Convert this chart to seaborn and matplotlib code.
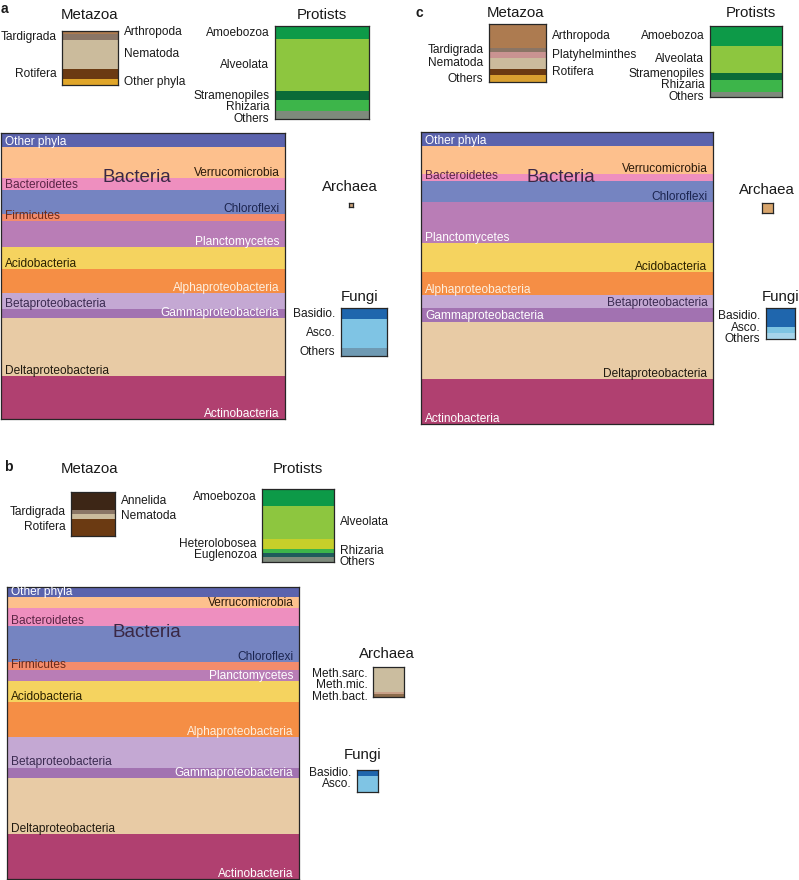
import numpy as np
import matplotlib.pyplot as plt
import seaborn as sns

# ---------------- data (relative share of each band, top to bottom) ----------------
bact_names_ab = ["Other phyla", "Verrucomicrobia", "Bacteroidetes", "Chloroflexi", "Firmicutes",
                 "Planctomycetes", "Acidobacteria", "Alphaproteobacteria", "Betaproteobacteria",
                 "Gammaproteobacteria", "Deltaproteobacteria", "Actinobacteria"]
bact_a = [4.9, 10.8, 4.2, 8.4, 2.4, 9.1, 7.7, 8.4, 5.6, 3.1, 20.3, 15.0]
bact_b = [3.5, 3.7, 6.1, 12.5, 2.6, 3.8, 7.3, 11.8, 10.6, 3.7, 19.2, 15.3]
bact_names_c = ["Other phyla", "Verrucomicrobia", "Bacteroidetes", "Chloroflexi", "Planctomycetes",
                "Acidobacteria", "Alphaproteobacteria", "Betaproteobacteria", "Gammaproteobacteria",
                "Deltaproteobacteria", "Actinobacteria"]
bact_c = [4.9, 9.4, 2.6, 7.1, 14.0, 9.9, 7.8, 4.6, 4.6, 19.7, 15.4]

meta_names_a = ["Arthropoda", "Tardigrada", "Nematoda", "Rotifera", "Other phyla"]
meta_a = [5.5, 11, 54, 18.5, 11]
meta_names_b = ["Annelida", "Tardigrada", "Nematoda", "Rotifera"]
meta_b = [42, 7, 12, 39]
meta_names_c = ["Arthropoda", "Tardigrada", "Platyhelminthes", "Nematoda", "Rotifera", "Others"]
meta_c = [41, 7, 10, 19, 11, 12]

prot_names_a = ["Amoebozoa", "Alveolata", "Stramenopiles", "Rhizaria", "Others"]
prot_a = [14, 56, 10, 11, 9]
prot_names_b = ["Amoebozoa", "Alveolata", "Heterolobosea", "Rhizaria", "Euglenozoa", "Others"]
prot_b = [23, 45, 14, 5.5, 5.5, 7]
prot_names_c = ["Amoebozoa", "Alveolata", "Stramenopiles", "Rhizaria", "Others"]
prot_c = [28, 38, 10, 17, 7]

fungi_names_a = ["Basidio.", "Asco.", "Others"]
fungi_a = [23, 60, 17]
fungi_names_b = ["Basidio.", "Asco."]
fungi_b = [27, 73]
fungi_names_c = ["Basidio.", "Asco.", "Others"]
fungi_c = [60, 20, 20]

arch_names_b = ["Meth.sarc.", "Meth.mic.", "Meth.bact."]
arch_b = [83, 7, 10]

# ---------------- style ----------------
W, H = 799, 880
EDGE = "#262626"
TXT = "#1a1a1a"
LABEL_FS = 8.6
GAP = 11.5

bact_colors = {
    "Other phyla": "#5b63ad", "Verrucomicrobia": "#fdc08d", "Bacteroidetes": "#ee8fbf",
    "Chloroflexi": "#7584c1", "Firmicutes": "#f48c6c", "Planctomycetes": "#b97db6",
    "Acidobacteria": "#f5d35f", "Alphaproteobacteria": "#f58e45", "Betaproteobacteria": "#c4a8d3",
    "Gammaproteobacteria": "#a272b1", "Deltaproteobacteria": "#e8cba5", "Actinobacteria": "#b04070",
}
bact_text = {
    "Other phyla": "white", "Verrucomicrobia": "#2a1a0a", "Bacteroidetes": "#5a2545",
    "Chloroflexi": "#1c2550", "Firmicutes": "#6a2a1a", "Planctomycetes": "white",
    "Acidobacteria": "#2a2000", "Alphaproteobacteria": "#fdf0e0", "Betaproteobacteria": "#3a2a50",
    "Gammaproteobacteria": "white", "Deltaproteobacteria": "#201a10", "Actinobacteria": "white",
}
meta_colors = {"Arthropoda": "#ad7b50", "Tardigrada": "#8a7565", "Platyhelminthes": "#c99391",
               "Nematoda": "#cbbb9c", "Rotifera": "#6b3a12", "Other phyla": "#e0a62a",
               "Others": "#d9a030", "Annelida": "#3d2616"}
prot_colors = {"Amoebozoa": "#0d9a48", "Alveolata": "#8dc63f", "Stramenopiles": "#0b6b38",
               "Rhizaria": "#3db54a", "Others": "#7e8a7c", "Heterolobosea": "#c6cf2a",
               "Euglenozoa": "#1f5b5b"}
fungi_cols_a = ["#1f66ad", "#7fc4e4", "#6f9ab3"]
fungi_cols_b = ["#1f66ad", "#7fc4e4"]
fungi_cols_c = ["#1f66ad", "#7ec4e2", "#a6d4ea"]
arch_cols_b = ["#cbbd9f", "#c8a088", "#8c6c4c"]

sns.set_theme(style="white")
plt.rcParams['font.family'] = ['Liberation Sans', 'DejaVu Sans']

fig = plt.figure(figsize=(W / 100, H / 100), dpi=100)


def px_axes(rect):
    x, y, w, h = rect
    return fig.add_axes([x / W, 1 - (y + h) / H, w / W, h / H])


def spread(centers, gap, limit):
    ys = list(centers)
    for i in range(1, len(ys)):
        ys[i] = max(ys[i], ys[i - 1] + gap)
    if ys:
        ys[-1] = min(ys[-1], limit)
    for i in range(len(ys) - 2, -1, -1):
        ys[i] = min(ys[i], ys[i + 1] - gap)
    return ys


def stack_box(rect, values, colors):
    ax = px_axes(rect)
    vals = np.asarray(values, dtype=float)
    starts = np.concatenate([[0], np.cumsum(vals)[:-1]])
    ax.bar(np.zeros(len(vals)), vals, bottom=starts, width=1.0, color=colors,
           edgecolor="none", linewidth=0)
    ax.set_xlim(-0.5, 0.5)
    ax.set_ylim(vals.sum(), 0)
    ax.set_xticks([])
    ax.set_yticks([])
    ax.set_facecolor("none")
    for s in ax.spines.values():
        s.set_visible(True)
        s.set_color(EDGE)
        s.set_linewidth(0.9)
    return ax, vals, starts


def side_box(rect, names, values, colors, sides):
    ax, vals, starts = stack_box(rect, values, colors)
    scale = rect[3] / vals.sum()
    centers = starts + vals / 2
    for side in "LR":
        idx = [i for i, s in enumerate(sides) if s == side]
        if not idx:
            continue
        ys = spread([centers[i] * scale for i in idx], GAP, rect[3])
        for i, y in zip(idx, ys):
            left = side == "L"
            ax.annotate(names[i], xy=(-0.5 if left else 0.5, y / scale),
                        xytext=(-4 if left else 4, 0), textcoords="offset points",
                        ha="right" if left else "left", va="center",
                        fontsize=LABEL_FS, color=TXT, annotation_clip=False)
    return ax


def bacteria_box(rect, names, values, sides):
    ax, vals, starts = stack_box(rect, values, [bact_colors[n] for n in names])
    for i, name in enumerate(names):
        left = sides[i] == "L"
        ax.annotate(name, xy=(-0.5 if left else 0.5, starts[i] + vals[i]),
                    xytext=(3 if left else -4, 1.5), textcoords="offset points",
                    ha="left" if left else "right", va="baseline",
                    fontsize=LABEL_FS, color=bact_text[name])
    # y axis is inverted, so 0.845 of the axes height is near the top
    ax.text(0.48, 0.845, "Bacteria", transform=ax.transAxes, ha="center", va="center",
            fontsize=13.5, color="#3a2845")
    return ax


def title(x, y, s, size=10.8, weight="normal", ha="center"):
    fig.text(x / W, 1 - y / H, s, ha=ha, va="center", fontsize=size,
             fontweight=weight, color=TXT)


sides_ab = ["L", "R"] * 6
sides_c = ["L", "R", "L", "R", "L", "R", "L", "R", "L", "R", "L"]

# ---------------- panel a ----------------
title(1, 9, "a", size=10, weight="bold", ha="left")
title(90, 15, "Metazoa")
title(322, 15, "Protists")
title(350, 187, "Archaea")
title(360, 297, "Fungi")
side_box((62, 31, 56, 54), meta_names_a, meta_a, [meta_colors[n] for n in meta_names_a],
         ["R", "L", "R", "L", "R"])
side_box((275, 26, 94, 93), prot_names_a, prot_a, [prot_colors[n] for n in prot_names_a],
         ["L"] * 5)
bacteria_box((1, 133, 284, 286), bact_names_ab, bact_a, sides_ab)
stack_box((349, 203, 4, 4), [100], ["#c9a27a"])
side_box((341, 308, 46, 48), fungi_names_a, fungi_a, fungi_cols_a, ["L"] * 3)

# ---------------- panel c ----------------
title(416, 13, "c", size=10, weight="bold", ha="left")
title(516, 13, "Metazoa")
title(751, 13, "Protists")
title(767, 190, "Archaea")
title(781, 297, "Fungi")
side_box((489, 24, 57, 58), meta_names_c, meta_c, [meta_colors[n] for n in meta_names_c],
         ["R", "L", "R", "L", "R", "L"])
side_box((710, 26, 72, 71), prot_names_c, prot_c, [prot_colors[n] for n in prot_names_c],
         ["L"] * 5)
bacteria_box((421, 132, 292, 292), bact_names_c, bact_c, sides_c)
stack_box((762, 203, 11, 10), [100], ["#d8a56c"])
side_box((766, 308, 29, 31), fungi_names_c, fungi_c, fungi_cols_c, ["L"] * 3)

# ---------------- panel b ----------------
title(4, 467, "b", size=10, weight="bold", ha="left")
title(90, 469, "Metazoa")
title(298, 469, "Protists")
title(387, 654, "Archaea")
title(363, 755, "Fungi")
side_box((71, 492, 44, 44), meta_names_b, meta_b, [meta_colors[n] for n in meta_names_b],
         ["R", "L", "R", "L"])
side_box((262, 489, 72, 73), prot_names_b, prot_b, [prot_colors[n] for n in prot_names_b],
         ["L", "R", "L", "R", "L", "R"])
bacteria_box((7, 587, 292, 292), bact_names_ab, bact_b, sides_ab)
side_box((373, 667, 31, 30), arch_names_b, arch_b, arch_cols_b, ["L"] * 3)
side_box((357, 770, 21, 22), fungi_names_b, fungi_b, fungi_cols_b, ["L"] * 2)

fig.savefig("out.png", dpi=100)
plt.close(fig)
